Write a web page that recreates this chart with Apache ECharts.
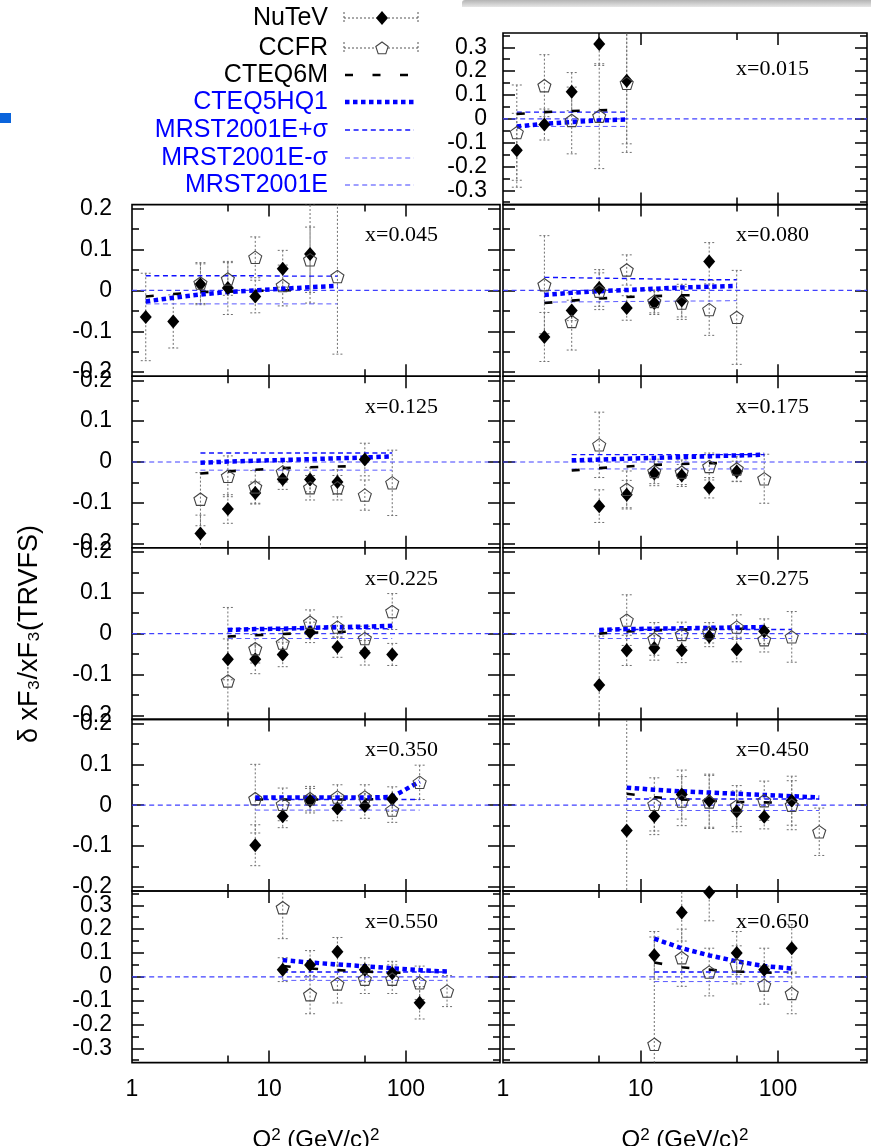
<!DOCTYPE html>
<html><head><meta charset="utf-8">
<script src="https://cdn.jsdelivr.net/npm/echarts@6/dist/echarts.min.js"></script>
<style>html,body{margin:0;padding:0;background:#fff}#c{width:871px;height:1146px}</style>
</head><body><div id="c"></div>
<script>
const _ = null;
// Q^2 bin centres (GeV/c)^2
const Q2 = [1.26, 2.0, 3.16, 5.01, 7.94, 12.6, 19.95, 31.6, 50.1, 79.4, 125.9, 199.5];
const PANEL_LABELS = ['x=0.015','x=0.045','x=0.080','x=0.125','x=0.175','x=0.225','x=0.275','x=0.350','x=0.450','x=0.550','x=0.650'];

const NUTEV = [
 [-0.132, -0.024, 0.114, 0.314, 0.160, _, _, _, _, _, _, _],
 [-0.065, -0.076, 0.015, 0.006, -0.015, 0.053, 0.089, _, _, _, _, _],
 [_, -0.114, -0.049, 0.006, -0.043, -0.031, -0.025, 0.071, _, _, _, _],
 [_, _, -0.175, -0.115, -0.076, -0.042, -0.043, -0.049, 0.006, _, _, _],
 [_, _, _, -0.108, -0.080, -0.028, -0.033, -0.063, -0.023, _, _, _],
 [_, _, _, -0.063, -0.063, -0.051, 0.003, -0.033, -0.047, -0.051, _, _],
 [_, _, _, -0.126, -0.041, -0.035, -0.041, -0.007, -0.039, 0.006, _, _],
 [_, _, _, _, -0.098, -0.027, 0.011, -0.008, -0.002, 0.015, _, _],
 [_, _, _, _, -0.062, -0.027, 0.026, 0.011, -0.015, -0.028, 0.011, _],
 [_, _, _, _, _, 0.030, 0.050, 0.105, 0.030, 0.015, -0.109, _],
 [_, _, _, _, _, 0.090, 0.270, 0.355, 0.100, 0.030, 0.120, _]
];
const NUTEV_ERR = [
 [0.155, 0.065, 0.080, 0.090, 0.265, _, _, _, _, _, _, _],
 [0.107, 0.065, 0.050, 0.065, 0.040, 0.045, 0.120, _, _, _, _, _],
 [_, 0.060, 0.025, 0.045, 0.030, 0.028, 0.040, 0.046, _, _, _, _],
 [_, _, 0.045, 0.035, 0.027, 0.025, 0.030, 0.030, 0.040, _, _, _],
 [_, _, _, 0.040, 0.035, 0.030, 0.027, 0.025, 0.025, _, _, _],
 [_, _, _, 0.050, 0.035, 0.030, 0.025, 0.025, 0.030, 0.027, _, _],
 [_, _, _, 0.120, 0.037, 0.030, 0.030, 0.025, 0.030, 0.030, _, _],
 [_, _, _, _, 0.050, 0.028, 0.030, 0.030, 0.030, 0.030, _, _],
 [_, _, _, _, 0.300, 0.045, 0.060, 0.065, 0.050, 0.030, 0.060, _],
 [_, _, _, _, _, 0.050, 0.060, 0.060, 0.050, 0.050, 0.068, _],
 [_, _, _, _, _, 0.100, 0.120, 0.120, 0.090, 0.090, 0.100, _]
];
const CCFR = [
 [-0.058, 0.139, -0.007, 0.011, 0.149, _, _, _, _, _, _, _],
 [_, _, 0.018, 0.028, 0.081, 0.012, 0.075, 0.034, _, _, _, _],
 [_, 0.014, -0.076, -0.002, 0.050, -0.027, -0.031, -0.047, -0.066, _, _, _],
 [_, _, -0.091, -0.035, -0.061, -0.024, -0.063, -0.063, -0.081, -0.051, _, _],
 [_, _, _, 0.042, -0.067, -0.023, -0.025, -0.011, -0.017, -0.041, _, _],
 [_, _, _, -0.116, -0.037, -0.023, 0.028, 0.016, -0.012, 0.054, _, _],
 [_, _, _, _, 0.033, -0.013, -0.002, 0.002, 0.016, -0.015, -0.008, _],
 [_, _, _, _, 0.016, 0.002, 0.016, 0.020, 0.020, -0.012, 0.056, _],
 [_, _, _, _, _, 0.002, 0.010, 0.008, -0.002, 0.011, 0.000, -0.065],
 [_, _, _, _, _, 0.290, -0.075, -0.030, -0.010, -0.010, -0.025, -0.060],
 [_, _, _, _, _, -0.283, 0.080, 0.020, 0.050, -0.035, -0.070, _]
];
const CCFR_ERR = [
 [0.200, 0.130, 0.140, 0.220, 0.290, _, _, _, _, _, _, _],
 [_, _, 0.050, 0.040, 0.050, 0.050, 0.080, 0.190, _, _, _, _],
 [_, 0.120, 0.070, 0.045, 0.037, 0.028, 0.040, 0.063, 0.115, _, _, _],
 [_, _, 0.065, 0.050, 0.040, 0.025, 0.030, 0.030, 0.037, 0.080, _, _],
 [_, _, _, 0.080, 0.045, 0.030, 0.030, 0.033, 0.030, 0.060, _, _],
 [_, _, _, 0.180, 0.035, 0.030, 0.030, 0.025, 0.030, 0.044, _, _],
 [_, _, _, _, 0.062, 0.040, 0.030, 0.025, 0.030, 0.030, 0.062, _],
 [_, _, _, _, 0.084, 0.040, 0.030, 0.030, 0.030, 0.030, 0.042, _],
 [_, _, _, _, _, 0.065, 0.060, 0.065, 0.050, 0.048, 0.060, 0.058],
 [_, _, _, _, _, 0.130, 0.080, 0.080, 0.060, 0.060, 0.070, 0.065],
 [_, _, _, _, _, 0.450, 0.120, 0.100, 0.080, 0.080, 0.085, _]
];
const CTEQ6M = [
 [0.020, 0.028, 0.033, 0.036, 0.037, _, _, _, _, _, _, _],
 [-0.015, -0.009, -0.004, -0.003, -0.001, 0.000, 0.001, _, _, _, _, _],
 [_, -0.031, -0.025, -0.020, -0.016, -0.014, -0.012, -0.011, _, _, _, _],
 [_, _, -0.028, -0.023, -0.019, -0.015, -0.013, -0.011, -0.010, _, _, _],
 [_, _, -0.021, -0.015, -0.011, -0.007, -0.005, -0.003, -0.002, _, _, _],
 [_, _, _, -0.007, -0.004, -0.001, 0.002, 0.004, 0.006, _, _, _],
 [_, _, _, 0.000, 0.005, 0.008, 0.010, 0.011, 0.012, 0.012, _, _],
 [_, _, _, _, 0.014, 0.014, 0.014, 0.014, 0.014, 0.016, _, _],
 [_, _, _, _, 0.028, 0.020, 0.014, 0.011, 0.008, 0.007, 0.005, _],
 [_, _, _, _, _, 0.045, 0.035, 0.028, 0.022, 0.018, 0.015, _],
 [_, _, _, _, _, 0.060, 0.040, 0.030, 0.022, 0.018, 0.015, _]
];
const CTEQ5HQ1 = [
 [-0.032, -0.021, -0.014, -0.007, -0.003, _, _, _, _, _, _, _],
 [-0.027, -0.018, -0.010, -0.004, 0.000, 0.004, 0.008, 0.011, _, _, _, _],
 [_, -0.011, -0.006, -0.002, 0.001, 0.004, 0.007, 0.009, 0.011, _, _, _],
 [_, _, -0.002, 0.001, 0.003, 0.005, 0.007, 0.009, 0.011, 0.014, _, _],
 [_, _, 0.004, 0.006, 0.008, 0.010, 0.012, 0.014, 0.016, 0.018, _, _],
 [_, _, _, 0.009, 0.011, 0.012, 0.014, 0.016, 0.017, 0.019, _, _],
 [_, _, _, 0.009, 0.011, 0.012, 0.013, 0.014, 0.015, 0.016, _, _],
 [_, _, _, _, 0.019, 0.019, 0.019, 0.019, 0.019, 0.020, 0.058, _],
 [_, _, _, _, 0.043, 0.038, 0.034, 0.031, 0.028, 0.025, 0.022, 0.019],
 [_, _, _, _, _, 0.070, 0.060, 0.052, 0.044, 0.036, 0.028, 0.022],
 [_, _, _, _, _, 0.160, 0.120, 0.090, 0.065, 0.045, 0.035, _]
];
const MRST_PLUS = [
 [0.028, 0.028, 0.028, 0.028, 0.028, _, _, _, _, _, _, _],
 [0.036, 0.036, 0.036, 0.036, 0.036, 0.035, 0.035, 0.035, _, _, _, _],
 [_, 0.032, 0.031, 0.030, 0.029, 0.028, 0.027, 0.026, 0.026, _, _, _],
 [_, _, 0.022, 0.022, 0.022, 0.022, 0.022, 0.022, 0.022, 0.022, _, _],
 [_, _, 0.018, 0.018, 0.018, 0.018, 0.018, 0.018, 0.018, 0.018, _, _],
 [_, _, _, 0.012, 0.012, 0.012, 0.012, 0.012, 0.012, 0.012, _, _],
 [_, _, _, 0.010, 0.010, 0.010, 0.010, 0.010, 0.010, 0.010, 0.010, _],
 [_, _, _, _, 0.014, 0.014, 0.014, 0.014, 0.014, 0.014, 0.014, _],
 [_, _, _, _, 0.015, 0.015, 0.015, 0.015, 0.015, 0.015, 0.015, 0.015],
 [_, _, _, _, _, 0.020, 0.020, 0.020, 0.020, 0.020, 0.020, 0.020],
 [_, _, _, _, _, 0.020, 0.020, 0.020, 0.020, 0.020, 0.020, _]
];
const MRST_MINUS = [
 [-0.032, -0.032, -0.032, -0.032, -0.032, _, _, _, _, _, _, _],
 [-0.033, -0.033, -0.033, -0.033, -0.033, -0.033, -0.033, -0.033, _, _, _, _],
 [_, -0.029, -0.028, -0.028, -0.027, -0.027, -0.026, -0.026, -0.025, _, _, _],
 [_, _, -0.020, -0.020, -0.020, -0.020, -0.020, -0.020, -0.020, -0.020, _, _],
 [_, _, -0.017, -0.017, -0.017, -0.017, -0.017, -0.017, -0.017, -0.017, _, _],
 [_, _, _, -0.012, -0.012, -0.012, -0.012, -0.012, -0.012, -0.012, _, _],
 [_, _, _, -0.012, -0.012, -0.012, -0.012, -0.012, -0.012, -0.012, -0.012, _],
 [_, _, _, _, -0.012, -0.012, -0.012, -0.012, -0.012, -0.012, -0.012, _],
 [_, _, _, _, -0.013, -0.013, -0.013, -0.013, -0.013, -0.013, -0.013, -0.013],
 [_, _, _, _, _, -0.015, -0.015, -0.015, -0.015, -0.015, -0.015, -0.015],
 [_, _, _, _, _, -0.020, -0.020, -0.020, -0.020, -0.020, -0.020, _]
];
// MRST2001E central curve: coincides with zero over the full axis range
const MRST_CENTRAL = [0, 0];

const X_TICK_LABELS = [1, 10, 100];
const X_MAJOR_TICKS = [10, 100];
const X_MINOR_TICKS = [5, 50];
const Y_LABELS_SMALL = [-0.2, -0.1, 0, 0.1, 0.2];
const Y_MINOR_SMALL = [-0.15, -0.05, 0.05, 0.15];
const Y_LABELS_BIG = [-0.3, -0.2, -0.1, 0, 0.1, 0.2, 0.3];
const Y_MINOR_BIG = [-0.35, -0.25, -0.15, -0.05, 0.05, 0.15, 0.25, 0.35];
const LEGEND_NAMES = ['NuTeV', 'CCFR', 'CTEQ6M', 'CTEQ5HQ1', 'MRST2001E+σ', 'MRST2001E-σ', 'MRST2001E'];

// ---------- layout ----------
const ROW_TOP = [33, 204.6, 376.2, 547.8, 719.4, 891];
const ROW_H = 171.6;
const COL_LEFT = [132, 503];
const COL_W = [368, 364];
const COL_XMAX = [486, 444];
const PANEL_POS = [[0,1],[1,0],[1,1],[2,0],[2,1],[3,0],[3,1],[4,0],[4,1],[5,0],[5,1]];
const FONT = '"Liberation Sans", Arial, sans-serif';

const STY = {
  cteq6m: {color: '#000', width: 2.6, type: [8, 19.5]},
  cteq5: {color: '#0000ff', width: 4.5, type: [4.5, 3.5]},
  mrstP: {color: '#1010ff', width: 1.4, type: [5, 3.6]},
  mrstM: {color: '#5a5aff', width: 1.0, type: [5, 3.6]},
  mrst0: {color: '#4040ff', width: 1.2, type: [5, 3.6]}
};
const ERR_COLOR = '#707070';
const PENTAGON = 'path://M50,0 L97.6,34.5 L79.4,90.5 L20.6,90.5 L2.4,34.5 Z';

function pairs(arr) {
  const out = [];
  arr.forEach((v, i) => { if (v !== null) out.push([Q2[i], v]); });
  return out;
}
function triples(vals, errs) {
  const out = [];
  vals.forEach((v, i) => { if (v !== null) out.push([Q2[i], v, errs[i]]); });
  return out;
}
function errRender(params, api) {
  const q = api.value(0), y = api.value(1), e = api.value(2);
  const t = api.coord([q, y + e]);
  const b = api.coord([q, y - e]);
  const hw = 5;
  const st = {stroke: ERR_COLOR, lineWidth: 1, lineDash: [2, 2], fill: null};
  return {type: 'group', children: [
    {type: 'line', shape: {x1: t[0], y1: t[1], x2: b[0], y2: b[1]}, style: st},
    {type: 'line', shape: {x1: t[0] - hw, y1: t[1], x2: t[0] + hw, y2: t[1]}, style: st},
    {type: 'line', shape: {x1: b[0] - hw, y1: b[1], x2: b[0] + hw, y2: b[1]}, style: st}
  ]};
}

const grids = [], xAxes = [], yAxes = [], series = [], graphics = [];

PANEL_POS.forEach(([r, c], p) => {
  const big = (r === 0 || r === 5);
  const ymax = big ? 0.36 : 0.21;
  grids.push({left: COL_LEFT[c], top: ROW_TOP[r], width: COL_W[c], height: ROW_H,
    outerBoundsMode: 'none', containLabel: false,
    show: true, borderColor: '#000', borderWidth: 1.6, backgroundColor: 'transparent'});
  const xi = xAxes.length, yi = yAxes.length;
  const bottomRow = (r === 5);
  const showYLab = (c === 0) || (r === 0);
  const tickLS = {color: '#000', width: 1.5};
  const mkX = (pos, ticks, len, withLabels) => {
    const a = {type: 'log', logBase: 10, gridIndex: p, position: pos, min: 1, max: COL_XMAX[c],
      axisLine: {show: false, onZero: false}, splitLine: {show: false}, minorTick: {show: false},
      axisTick: {show: true, inside: true, length: len, customValues: ticks, lineStyle: tickLS},
      axisLabel: withLabels ? {show: true, customValues: X_TICK_LABELS, margin: 16, color: '#000',
        fontSize: 23, fontFamily: FONT} : {show: false}};
    if (withLabels) {
      a.name = 'Q{sup|2} (GeV/c){sup|2}';
      a.nameLocation = 'middle';
      a.nameGap = 64;
      a.nameTextStyle = {fontSize: 24, color: '#000', fontFamily: FONT, lineHeight: 28,
        rich: {sup: {fontSize: 17, fontFamily: FONT, color: '#000', verticalAlign: 'top', lineHeight: 28, padding: [0, 0, 8, 0]}}};
    }
    return a;
  };
  xAxes.push(mkX('bottom', X_MAJOR_TICKS, 12, bottomRow));
  xAxes.push(mkX('bottom', X_MINOR_TICKS, 7, false));
  xAxes.push(mkX('top', X_MAJOR_TICKS, 12, false));
  xAxes.push(mkX('top', X_MINOR_TICKS, 7, false));
  const mkY = (pos, ticks, len, withLabels) => ({type: 'value', gridIndex: p, position: pos,
    min: -ymax, max: ymax,
    axisLine: {show: false, onZero: false}, splitLine: {show: false}, minorTick: {show: false},
    axisTick: {show: true, inside: true, length: len, customValues: ticks, lineStyle: tickLS},
    axisLabel: withLabels ? {show: true, customValues: big ? Y_LABELS_BIG : Y_LABELS_SMALL,
      margin: c === 0 ? 20 : 16, color: '#000', fontSize: 23, fontFamily: FONT} : {show: false}});
  const majors = big ? Y_LABELS_BIG : Y_LABELS_SMALL;
  const minors = big ? Y_MINOR_BIG : Y_MINOR_SMALL;
  yAxes.push(mkY('left', majors, 12, showYLab));
  yAxes.push(mkY('left', minors, 7, false));
  yAxes.push(mkY('right', majors, 12, false));
  yAxes.push(mkY('right', minors, 7, false));

  const base = {xAxisIndex: xi, yAxisIndex: yi, silent: true, animation: false};
  const lineS = (name, data, st, z) => Object.assign({}, base, {
    type: 'line', name, data, showSymbol: false, symbol: 'none', z: z, clip: true,
    lineStyle: {color: st.color, width: st.width, type: st.type}});

  series.push(lineS('MRST2001E', [[1, MRST_CENTRAL[0]], [COL_XMAX[c], MRST_CENTRAL[1]]], STY.mrst0, 2));
  series.push(Object.assign({}, base, {type: 'custom', name: 'NuTeV err', renderItem: errRender,
    data: triples(NUTEV[p], NUTEV_ERR[p]), clip: true, z: 1}));
  series.push(Object.assign({}, base, {type: 'custom', name: 'CCFR err', renderItem: errRender,
    data: triples(CCFR[p], CCFR_ERR[p]), clip: true, z: 1}));
  series.push(lineS('MRST2001E+σ', pairs(MRST_PLUS[p]), STY.mrstP, 2));
  series.push(lineS('MRST2001E-σ', pairs(MRST_MINUS[p]), STY.mrstM, 2));
  series.push(lineS('CTEQ6M', pairs(CTEQ6M[p]), STY.cteq6m, 3));
  series.push(lineS('CTEQ5HQ1', pairs(CTEQ5HQ1[p]), STY.cteq5, 3));
  series.push(Object.assign({}, base, {type: 'scatter', name: 'NuTeV', data: pairs(NUTEV[p]),
    symbol: 'diamond', symbolSize: [12, 14], itemStyle: {color: '#000', opacity: 1}, z: 4, clip: true}));
  series.push(Object.assign({}, base, {type: 'scatter', name: 'CCFR', data: pairs(CCFR[p]),
    symbol: PENTAGON, symbolKeepAspect: true, symbolSize: 13,
    itemStyle: {color: 'rgba(255,255,255,0)', borderColor: '#444', borderWidth: 1.1, opacity: 1}, z: 5, clip: true}));

  graphics.push({type: 'text', x: COL_LEFT[c] + 233, y: ROW_TOP[r] + (r === 0 ? 36 : 31),
    style: {text: PANEL_LABELS[p], font: '22px "Liberation Serif", "Times New Roman", serif',
      fill: '#000', align: 'left', verticalAlign: 'middle'}});
});

// ---------- legend (drawn) ----------
const LEG_Y = [18, 48, 75, 102, 130, 158, 185];
const LEG_TX = 328, LS = 344, LE = 418;
const legColors = ['#000', '#000', '#000', '#0000ff', '#0000ff', '#0000ff', '#0000ff'];
LEGEND_NAMES.forEach((n, i) => {
  graphics.push({type: 'text', x: LEG_TX, y: LEG_Y[i],
    style: {text: n, font: '25px ' + FONT, fill: legColors[i], align: 'right', verticalAlign: 'middle'}});
});
function errSample(y) {
  const st = {stroke: '#555', lineWidth: 1, lineDash: [2, 2]};
  graphics.push({type: 'line', shape: {x1: LS, y1: y, x2: LE, y2: y}, style: st});
  graphics.push({type: 'line', shape: {x1: LS, y1: y - 6, x2: LS, y2: y + 6}, style: st});
  graphics.push({type: 'line', shape: {x1: LE, y1: y - 6, x2: LE, y2: y + 6}, style: st});
}
errSample(LEG_Y[0]);
graphics.push({type: 'polygon', shape: {points: [[382, LEG_Y[0] - 7], [388, LEG_Y[0]], [382, LEG_Y[0] + 7], [376, LEG_Y[0]]]}, style: {fill: '#000'}});
errSample(LEG_Y[1]);
(function () {
  const cx = 382, cy = LEG_Y[1] + 0.5, R = 6.5, pts = [];
  for (let k = 0; k < 5; k++) { const a = -Math.PI / 2 + k * 2 * Math.PI / 5; pts.push([cx + R * Math.cos(a), cy + R * Math.sin(a)]); }
  graphics.push({type: 'polygon', shape: {points: pts}, style: {fill: '#fff', stroke: '#444', lineWidth: 1.1}});
})();
const legLine = (y, st, x2) => graphics.push({type: 'line', shape: {x1: LS + 1, y1: y, x2: x2, y2: y},
  style: {stroke: st.color, lineWidth: st.width, lineDash: st.type}});
legLine(LEG_Y[2], STY.cteq6m, 410);
legLine(LEG_Y[3], STY.cteq5, 414);
legLine(LEG_Y[4], STY.mrstP, 414);
legLine(LEG_Y[5], STY.mrstM, 414);
legLine(LEG_Y[6], STY.mrst0, 414);

// y-axis title
graphics.push({type: 'text', x: 30, y: 634, rotation: Math.PI / 2,
  style: {text: 'δ xF₃/xF₃(TRVFS)', font: '27px ' + FONT, fill: '#000', align: 'center', verticalAlign: 'middle'}});
// screenshot artefacts
graphics.push({type: 'rect', shape: {x: 462, y: 0, width: 409, height: 7, r: [3, 0, 0, 0]},
  style: {fill: new echarts.graphic.LinearGradient(0, 0, 0, 1, [{offset: 0, color: '#b4b4b4'}, {offset: 1, color: '#e6e6e6'}])}});
graphics.push({type: 'rect', shape: {x: 0, y: 113, width: 11, height: 10}, style: {fill: '#0a64dc'}});

const chart = echarts.init(document.getElementById('c'), null, {renderer: 'canvas'});
chart.setOption({
  animation: false,
  backgroundColor: '#fff',
  grid: grids, xAxis: xAxes, yAxis: yAxes, series: series,
  graphic: {elements: graphics}
});
</script></body></html>
